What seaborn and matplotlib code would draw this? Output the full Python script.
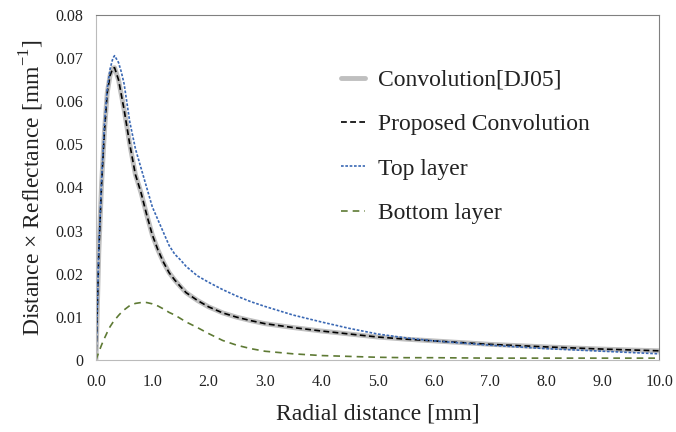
import numpy as np
import matplotlib
matplotlib.use('Agg')
import matplotlib.pyplot as plt
import pandas as pd
import seaborn as sns

# values
radial = [0.0, 0.05, 0.1, 0.15, 0.2, 0.25, 0.3, 0.33, 0.4, 0.45, 0.5, 0.6, 0.7,
          0.8, 0.9, 1.0, 1.1, 1.2, 1.3, 1.4, 1.5, 1.6, 1.8, 2.0, 2.25, 2.5,
          2.75, 3.0, 3.5, 4.0, 4.5, 5.0, 5.5, 6.0, 7.0, 8.0, 9.0, 10.0]
conv_dj05 = [0.0, 0.025, 0.041, 0.053, 0.062, 0.066, 0.0677, 0.0678, 0.065,
             0.0615, 0.058, 0.050, 0.043, 0.0388, 0.0337, 0.029, 0.0255, 0.0226,
             0.0202, 0.0185, 0.0170, 0.0156, 0.0138, 0.0123, 0.0109, 0.0099,
             0.0091, 0.0084, 0.0075, 0.0067, 0.0060, 0.0053, 0.0048, 0.0044,
             0.0036, 0.0030, 0.0025, 0.0021]
proposed = conv_dj05
top_layer = [0.0, 0.026, 0.042, 0.0548, 0.063, 0.0675, 0.0700, 0.0706, 0.069,
             0.0668, 0.064, 0.0552, 0.049, 0.0445, 0.040, 0.0355, 0.0325, 0.0295,
             0.0265, 0.0245, 0.0232, 0.0217, 0.0195, 0.0180, 0.0163, 0.0148,
             0.0135, 0.0124, 0.0104, 0.0088, 0.0073, 0.0060, 0.0051, 0.0044,
             0.0034, 0.0026, 0.0020, 0.0014]
bottom_layer = [0.0, 0.0018, 0.0035, 0.0050, 0.0064, 0.0077, 0.0087, 0.0092,
                0.0103, 0.0110, 0.0116, 0.0126, 0.0131, 0.0133, 0.0133, 0.0130,
                0.0125, 0.0118, 0.0110, 0.0104, 0.0096, 0.0088, 0.0075, 0.0061,
                0.0045, 0.0034, 0.0026, 0.0020, 0.0014, 0.0010, 0.0008, 0.0006,
                0.0005, 0.0005, 0.0004, 0.0004, 0.0004, 0.0004]

df = pd.DataFrame({'x': radial, 'conv': conv_dj05, 'prop': proposed,
                   'top': top_layer, 'bottom': bottom_layer})

sns.set_style('white')
plt.rcParams['font.family'] = ['Liberation Serif', 'DejaVu Serif']
plt.rcParams['mathtext.fontset'] = 'custom'
plt.rcParams['mathtext.rm'] = 'Liberation Serif'

fig, ax = plt.subplots(figsize=(6.76, 4.32), dpi=100)
fig.subplots_adjust(left=0.142, right=0.975, top=0.965, bottom=0.167)

sns.lineplot(data=df, x='x', y='conv', ax=ax, color='#bfbfbf', linewidth=3.5,
             label='Convolution[DJ05]')
sns.lineplot(data=df, x='x', y='prop', ax=ax, color='black', linewidth=1.2,
             label='Proposed Convolution')
sns.lineplot(data=df, x='x', y='top', ax=ax, color='#3a68b4', linewidth=1.2,
             label='Top layer')
sns.lineplot(data=df, x='x', y='bottom', ax=ax, color='#5e7a34', linewidth=1.2,
             label='Bottom layer')
ax.lines[1].set_dashes((3.5, 2))
ax.lines[2].set_dashes((1.6, 1))
ax.lines[3].set_dashes((4, 3))

ax.set_xlim(0, 10)
ax.set_ylim(0, 0.08)
xt = np.arange(0, 10.5, 1)
ax.set_xticks(xt)
ax.set_xticklabels([f'{v:.1f}' for v in xt])
yt = np.arange(0, 0.081, 0.01)
ax.set_yticks(yt)
ax.set_yticklabels(['0'] + [f'{v:.2f}' for v in yt[1:]])
ax.tick_params(axis='y', direction='in', length=4, color='#bbbbbb', labelsize=11.5,
               pad=9, labelcolor='#222222')
ax.tick_params(axis='x', direction='out', length=4, color='#bbbbbb', labelsize=11.5,
               pad=6, labelcolor='#222222')

ax.set_xlabel('Radial distance [mm]', fontsize=17, labelpad=10, color='#222222')
ax.set_ylabel(r'Distance × Reflectance [mm$^{\mathregular{-1}}$]', fontsize=17,
              labelpad=7, color='#222222')

for side in ['left', 'bottom']:
    ax.spines[side].set_color('#bbbbbb')
ax.spines['top'].set_color('#808080')
ax.spines['right'].set_color('#808080')

leg = ax.legend(loc='upper left', bbox_to_anchor=(0.435, 0.843), frameon=False,
                fontsize=17, handlelength=1.0, labelspacing=0.97,
                handletextpad=0.55, borderpad=0, borderaxespad=0)
for t in leg.get_texts():
    t.set_color('#222222')

plt.savefig('out.png', dpi=100)
